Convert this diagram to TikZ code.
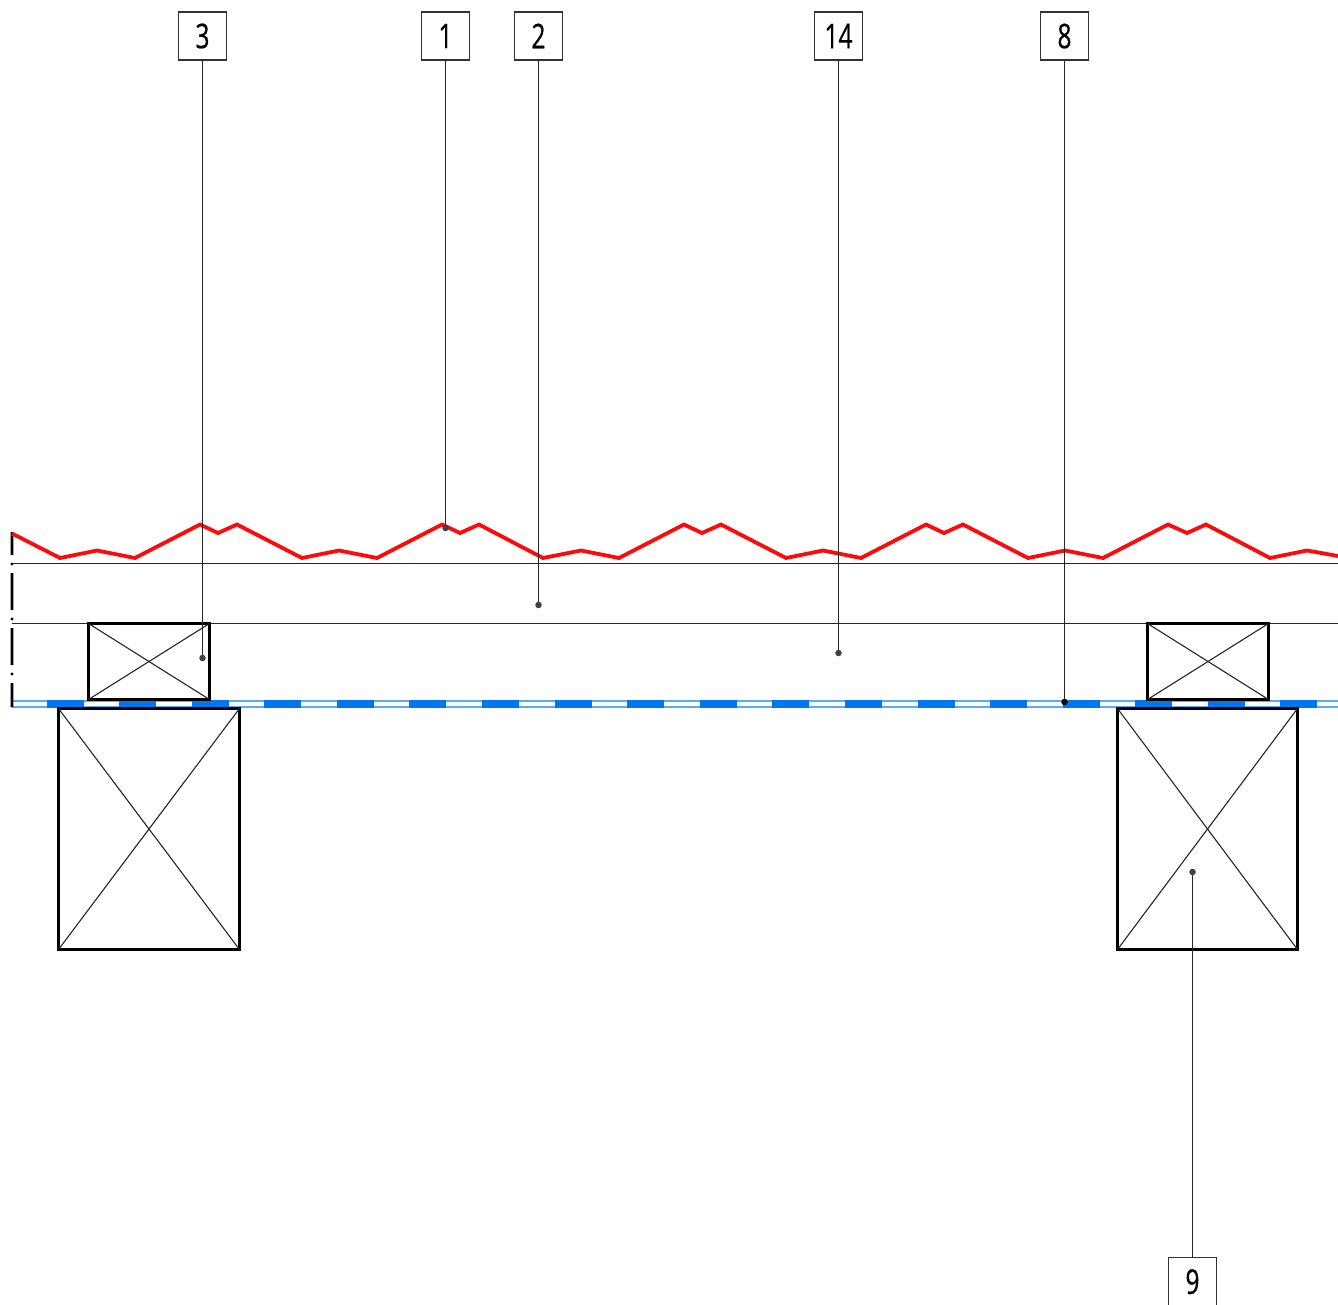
\documentclass[tikz,border=0pt]{standalone}
\usepackage{fontspec}
\newfontfamily\labelfont[FakeStretch=0.72,FakeBold=0.6]{Open Sans}
\tikzset{
  thinln/.style={line width=1.1pt,black!85},
  member/.style={draw=black,line width=2.7pt,inner sep=0pt,outer sep=0pt,anchor=north west},
  tag/.style={draw=black!80,line width=1.1pt,minimum width=48pt,minimum height=48pt,inner sep=0pt,outer sep=0pt,fill=white,font=\labelfont\fontsize{34}{34}\selectfont,text=black},
  leader/.style={line width=1.1pt,black!85},
  dotmark/.style={circle,fill=black!75,minimum size=6.5pt,inner sep=0pt,outer sep=0pt},
}
\begin{document}
\begin{tikzpicture}[x=1pt,y=-1pt]
\useasboundingbox (0,0) rectangle (1338,1304);
\fill[white] (0,0) rectangle (1338,1304);
% thin lines
\coordinate (la) at (12,563.5); \coordinate (lb) at (1338,563.5);
\coordinate (lc) at (12,623.5); \coordinate (ld) at (1338,623.5);
\draw[thinln] (la) -- (lb);
\draw[thinln] (lc) -- (ld);
% blue membrane
\draw[line width=1.6pt,color={rgb,255:red,90;green,170;blue,255}] (12,701) -- (1338,701) (12,707) -- (1338,707);
\foreach \x in {46.5,119.1,191.7,264.3,336.9,409.4,482,554.6,627.2,699.8,772.4,844.9,917.5,990.1,1062.7,1135.3,1207.8,1280.4}
  \fill[color={rgb,255:red,0;green,118;blue,240}] (\x,699.6) rectangle ++(37,8.4);
% centre line
\fill[black] (10.7,532) rectangle (13.3,555) (10.7,573) rectangle (13.3,610) (10.7,628) rectangle (13.3,665) (10.7,683) rectangle (13.3,707);
\fill (12,564) circle (1.6pt) (12,619) circle (1.6pt) (12,674) circle (1.6pt);
% red profile
\draw[line width=3.8pt,color={rgb,255:red,255;green,10;blue,10},line join=miter]
 (12,533.5) -- (60,558) -- (97,550.5) -- (135,558) -- (200,524.5) -- (218,533) -- (237,524.5)
 -- (302,558) -- (339,550.5) -- (377,558) -- (442,524.5) -- (460,533) -- (479,524.5)
 -- (543,558) -- (581,550.5) -- (619,558) -- (684,524.5) -- (702,533) -- (721,524.5)
 -- (786,558) -- (823,550.5) -- (861,558) -- (926,524.5) -- (944,533) -- (963,524.5)
 -- (1028,558) -- (1065,550.5) -- (1103,558) -- (1168,524.5) -- (1187,533) -- (1206,524.5)
 -- (1270,558) -- (1307,550.5) -- (1338,556);
% timber members
\node[member,minimum width=121pt,minimum height=76pt] (s1) at (88.5,623.5) {};
\node[member,minimum width=121pt,minimum height=76pt] (s2) at (1147.5,623.5) {};
\node[member,minimum width=181pt,minimum height=241pt] (b1) at (58.5,708.5) {};
\node[member,minimum width=180pt,minimum height=241pt] (b2) at (1117.5,708.5) {};
\foreach \n in {s1,s2,b1,b2}{
  \draw[thinln] (\n.north west) -- (\n.south east);
  \draw[thinln] (\n.north east) -- (\n.south west);
}
% tags
\node[tag] (t3) at (202.5,36) {3};
\node[tag] (t1) at (445.5,36) {1};
\node[tag] (t2) at (538.5,36) {2};
\node[tag] (t14) at (838.5,36) {14};
\node[tag] (t8) at (1064.5,36) {8};
\node[tag,minimum height=50pt,text depth=2pt] (t9) at (1192.5,1282.5) {9};
% dots
\node[dotmark] (d3) at (202.5,658) {};
\node[dotmark] (d1) at (445.5,528) {};
\node[dotmark] (d2) at (538.5,605) {};
\node[dotmark] (d14) at (838.5,653) {};
\node[dotmark,fill=black] (d8) at (1064.5,702) {};
\node[dotmark] (d9) at (1192.5,872) {};
\foreach \n in {3,1,2,14,8,9}
  \draw[leader] (t\n) -- (d\n);
\end{tikzpicture}
\end{document}
